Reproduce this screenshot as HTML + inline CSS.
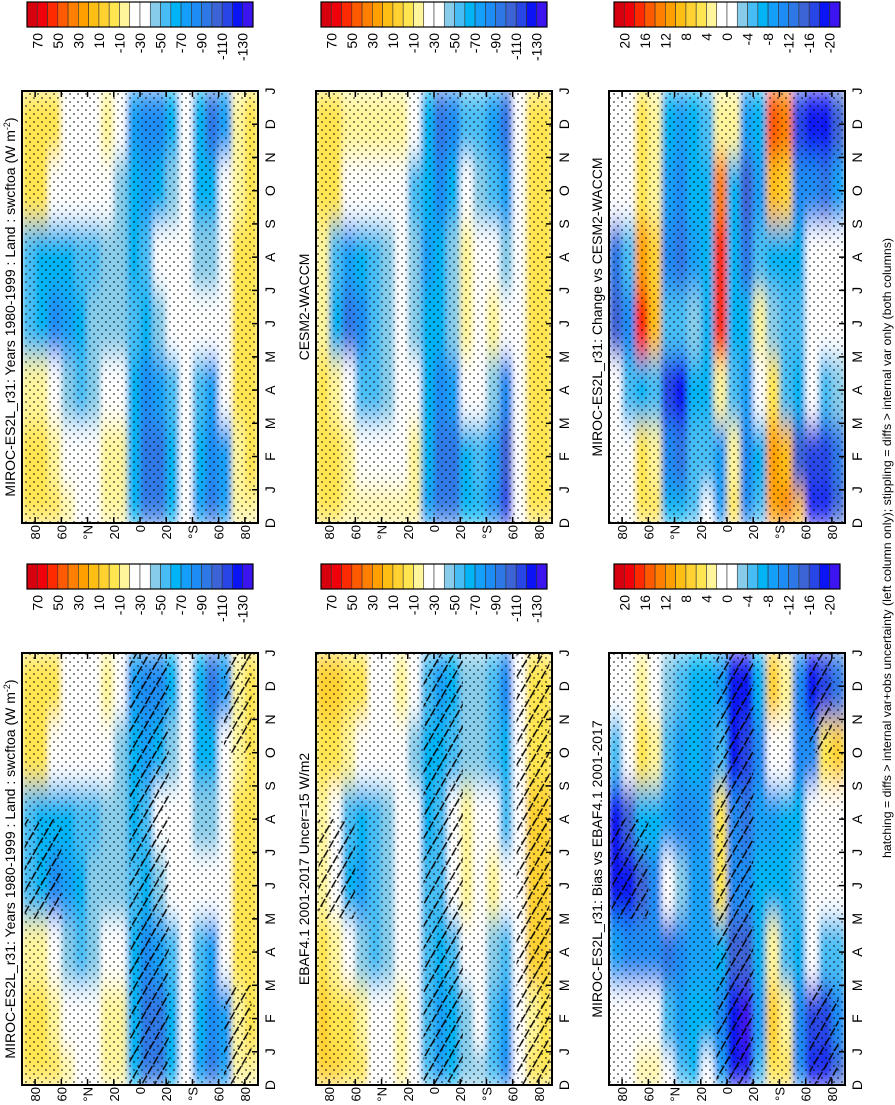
<!DOCTYPE html>
<html><head><meta charset="utf-8"><style>
html,body{margin:0;padding:0;background:#fff;width:895px;height:1105px;overflow:hidden;}
svg{display:block;font-family:"Liberation Sans",sans-serif;}
</style></head><body>
<svg id="fig" width="895" height="1105" viewBox="0 0 895 1105" xmlns="http://www.w3.org/2000/svg" overflow="hidden">
<defs>
<pattern id="stip" width="8" height="8" patternUnits="userSpaceOnUse"><circle cx="2" cy="2" r="1" fill="#000"/><circle cx="6" cy="6" r="1" fill="#000"/></pattern>
<pattern id="hatch" width="11" height="11" patternUnits="userSpaceOnUse" patternTransform="rotate(30)"><line x1="5" y1="0" x2="5" y2="11" stroke="#000" stroke-width="1.4" stroke-dasharray="9 2"/></pattern>
<filter id="blur" x="0" y="0" width="1" height="1"><feGaussianBlur stdDeviation="3 14" edgeMode="duplicate"/></filter>
</defs>
<text transform="translate(891,548) rotate(-90)" text-anchor="middle" font-size="12" textLength="620" lengthAdjust="spacingAndGlyphs">hatching = diffs &gt; internal var+obs uncertainty (left column only); stippling = diffs &gt; internal var only (both columns)</text>
</svg>
<script>
// ---- data ----
const lats = [85,75,65,55,45,35,25,15,5,-5,-15,-25,-35,-45,-55,-65,-75,-85];
const times = [0,2,4,6,8,10,12]; // D, F, A, J, A, O, D
const monthLabels = ["D","J","F","M","A","M","J","J","A","S","O","N","D","J"];
const latTickValues = [80,60,40,20,0,-20,-40,-60,-80];
const latTickLabels = ["80","60","°N","20","0","20","°S","60","80"];
const absTickLabels = ["70","50","30","10","-10","-30","-50","-70","-90","-110","-130"];
const diffTickLabels = ["20","16","12","8","4","0","-4","-8","-12","-16","-20"];
const colors = ['#d7000f','#f0000a','#ff2a00','#ff5a00','#ff8000','#ffa000','#ffbe14','#ffd232','#ffe650','#fff59b','#ffffff','#ffffff','#87cdeb','#46bef5','#00b4f5','#14a0fa','#1e8cf5','#2d78e6','#3c64d7','#2846e6','#0a14f5','#3c14f0'];

const mirocVals = [
[-5,-5,-10,-55,-50,-5,-5],
[-5,-5,-15,-65,-60,-5,-5],
[-8,-10,-30,-80,-65,-25,-8],
[-12,-25,-45,-75,-60,-30,-20],
[-30,-30,-50,-60,-55,-30,-30],
[-30,-30,-45,-45,-50,-30,-25],
[-15,-15,-30,-45,-45,-30,-15],
[-15,-18,-35,-45,-40,-40,-20],
[-60,-60,-60,-55,-60,-65,-70],
[-90,-90,-80,-60,-55,-70,-85],
[-90,-90,-75,-40,-30,-60,-85],
[-60,-60,-50,-30,-30,-45,-60],
[-30,-30,-30,-25,-30,-30,-30],
[-70,-65,-55,-30,-45,-60,-65],
[-90,-80,-70,-30,-40,-65,-90],
[-70,-70,-30,-30,-30,-30,-70],
[-15,-15,-5,-5,-5,-10,-12],
[-10,-5,-5,-5,-5,-5,-5]];
const cesmVals = [
[-5,-5,-5,-10,-10,-5,-5],
[-5,-8,-12,-60,-55,-8,-5],
[-10,-15,-30,-95,-75,-30,-10],
[-12,-20,-50,-85,-65,-30,-15],
[-15,-30,-50,-55,-50,-30,-15],
[-15,-30,-40,-45,-45,-30,-15],
[-15,-30,-30,-30,-30,-25,-15],
[-12,-15,-20,-40,-45,-50,-25],
[-70,-60,-60,-65,-70,-65,-65],
[-90,-95,-85,-65,-60,-80,-95],
[-90,-90,-75,-40,-40,-60,-80],
[-60,-65,-30,-15,-15,-35,-55],
[-60,-50,-30,-20,-30,-40,-55],
[-80,-70,-45,-15,-30,-55,-70],
[-110,-100,-80,-35,-45,-70,-95],
[-30,-30,-30,-30,-30,-30,-30],
[-5,-5,-5,-5,-5,-5,-5],
[-5,-5,-5,-5,-5,-5,-5]];
const changeVals = [
[0,0,0,-15,-12,0,0],
[0,0,-5,-10,-5,0,0],
[5,5,-6,18,12,6,5],
[5,3,-5,10,8,3,4],
[-6,-10,-16,-5,-10,-8,-6],
[-6,-12,-18,-4,-12,-10,-8],
[-4,-5,-6,-3,-8,-6,-6],
[2,-4,-6,-6,-6,-6,-4],
[-8,-8,4,18,18,14,4],
[6,4,-4,-6,-6,-6,3],
[-10,-10,-8,-6,-12,-14,-8],
[-4,-6,2,4,-4,-8,-6],
[12,12,6,-2,-6,10,16],
[14,10,-4,-4,-6,8,14],
[10,-14,-6,-4,-6,-10,-16],
[-18,-16,0,0,0,-10,-18],
[-18,-16,-4,0,0,-12,-18],
[-14,-12,-2,0,0,-8,-14]];
const ebafVals = [
[5,2,-5,-10,-15,-5,2],
[2,-5,-10,-20,-25,-5,2],
[-2,-8,-30,-60,-55,-10,-2],
[-8,-15,-45,-70,-60,-20,-8],
[-25,-25,-50,-55,-50,-35,-25],
[-30,-30,-45,-45,-45,-30,-30],
[-15,-15,-25,-30,-30,-20,-15],
[-20,-20,-25,-30,-35,-40,-25],
[-50,-55,-55,-55,-65,-65,-55],
[-70,-75,-65,-55,-50,-60,-75],
[-65,-65,-55,-30,-25,-50,-60],
[-45,-40,-30,-15,-15,-40,-45],
[-45,-30,-30,-25,-30,-40,-45],
[-55,-50,-45,-15,-25,-55,-55],
[-80,-70,-55,-35,-50,-65,-80],
[-30,-30,-30,-30,-30,-30,-30],
[-5,-10,2,2,2,-5,-8],
[-5,-5,2,2,2,0,-5]];
const biasVals = [
[0,0,-8,-18,-18,-4,0],
[0,0,-10,-18,-14,2,0],
[4,0,-10,-14,-6,5,4],
[3,0,-10,-10,-6,4,2],
[0,-4,-12,0,-8,-4,-2],
[-4,-8,-10,-2,-10,-8,-4],
[-6,-6,-8,-8,-10,-6,-6],
[0,-6,-8,-8,-8,-8,-6],
[-8,-10,-6,6,6,-4,-8],
[-18,-18,-14,-10,-10,-18,-18],
[-18,-20,-14,-10,-12,-16,-18],
[-4,-8,-6,-6,-8,-10,-6],
[6,8,4,-6,-8,2,8],
[6,4,-4,-6,-6,0,4],
[-10,-10,-6,-4,-6,-10,-10],
[-18,-16,0,0,0,-10,-18],
[-18,-16,-4,0,0,6,-16],
[-14,-10,-4,0,0,8,-12]];
// hatch regions: [latNorth, latSouth, tStart, tEnd]
const hatchMiroc = [[8,-22,0,13],[88,60,5,8],[-64,-85,0,3],[-64,-85,10,13]];
const hatchEbaf = [[8,-22,0,13],[88,60,5,8],[-63,-88,0,13]];
const hatchBias = [[8,-20,0,13],[88,60,5,8],[-63,-85,0,3],[-63,-80,10,13]];

// ---- drawing ----
const NS = "http://www.w3.org/2000/svg";
const svg = document.getElementById('fig');
function mk(tag, attrs, parent){ const e=document.createElementNS(NS,tag); for(const k in attrs) e.setAttribute(k,attrs[k]); (parent||svg).appendChild(e); return e; }

const W = 236, H = 432;
const panels = [
 {id:'miroc-top', x0:22, y0:91, vals:mirocVals, diff:false, hatch:[], title:'MIROC-ES2L_r31: Years 1980-1999 : Land : swcftoa (W m', sup:true},
 {id:'cesm', x0:316, y0:91, vals:cesmVals, diff:false, hatch:[], title:'CESM2-WACCM'},
 {id:'change', x0:609, y0:91, vals:changeVals, diff:true, hatch:[], title:'MIROC-ES2L_r31: Change vs CESM2-WACCM'},
 {id:'miroc-bottom', x0:22, y0:653, vals:mirocVals, diff:false, hatch:hatchMiroc, title:'MIROC-ES2L_r31: Years 1980-1999 : Land : swcftoa (W m', sup:true},
 {id:'ebaf', x0:316, y0:653, vals:ebafVals, diff:false, hatch:hatchEbaf, title:'EBAF4.1 2001-2017 Uncer=15 W/m2'},
 {id:'bias', x0:609, y0:653, vals:biasVals, diff:true, hatch:hatchBias, title:'MIROC-ES2L_r31: Bias vs EBAF4.1 2001-2017'}
];

function binOf(v, diff){ let b = diff ? Math.floor((22 - v)/2) : Math.floor((80 - v)/10); return Math.max(0, Math.min(21, b)); }

panels.forEach((p, pi) => {
  const g = mk('g', {});
  
  
  const xOf = lat => p.x0 + (90 - lat) / 180 * W;
  const yOf = t => p.y0 + H - t / 13 * H;
  const cid = 'clip' + pi;
  const cp = mk('clipPath', {id:cid}, g);
  mk('rect', {x:p.x0, y:p.y0, width:W, height:H}, cp);
  const clipG = mk('g', {'clip-path':'url(#'+cid+')'}, g);
  const field = mk('g', {filter:'url(#blur)'}, clipG);
  p.vals.forEach((row, i) => {
    row.forEach((v, j) => {
      let la1 = lats[i] + 5, la2 = lats[i] - 5;
      let t1 = Math.max(0, times[j] - 1), t2 = times[j] + 1;
      if (j === times.length - 1) t2 = 13;
      const r = mk('rect', {x:xOf(la1), y:yOf(t2), width:xOf(la2)-xOf(la1), height:yOf(t1)-yOf(t2), fill:colors[binOf(v,p.diff)]}, field);
      
      
    });
  });
  const st = mk('rect', {x:p.x0, y:p.y0, width:W, height:H, fill:'url(#stip)', opacity:0.6}, clipG);
  
  
  p.hatch.forEach(hr => {
    const la1 = Math.min(hr[0], 90), la2 = Math.max(hr[1], -90);
    const h = mk('rect', {x:xOf(la1), y:yOf(hr[3]), width:xOf(la2)-xOf(la1), height:yOf(hr[2])-yOf(hr[3]), fill:'url(#hatch)'}, clipG);
    
    
  });
  const box = mk('rect', {x:p.x0, y:p.y0, width:W, height:H, fill:'none', stroke:'#000', 'stroke-width':2}, g);
  
  
  latTickValues.forEach((lv, k) => {
    const x = xOf(lv);
    mk('line', {x1:x, y1:p.y0, x2:x, y2:p.y0+6, stroke:'#000', 'stroke-width':1.5}, g);
    mk('line', {x1:x, y1:p.y0+H, x2:x, y2:p.y0+H-6, stroke:'#000', 'stroke-width':1.5}, g);
    const t = mk('text', {transform:'translate('+(x+5)+','+(p.y0+H+2)+') rotate(-90)', 'text-anchor':'end', 'font-size':13}, g);
    t.textContent = latTickLabels[k];
    
    
  });
  monthLabels.forEach((m, k) => {
    const y = yOf(k);
    mk('line', {x1:p.x0+W, y1:y, x2:p.x0+W-6, y2:y, stroke:'#000', 'stroke-width':1.5}, g);
    const t = mk('text', {transform:'translate('+(p.x0+W+17)+','+y+') rotate(-90)', 'text-anchor':'middle', 'font-size':14}, g);
    t.textContent = m;
    
    
  });
  const tt = mk('text', {transform:'translate('+(p.x0-7)+','+(p.y0+H/2)+') rotate(-90)', 'text-anchor':'middle', 'font-size':14}, g);
  tt.textContent = p.title;
  if (p.sup) { const s = mk('tspan', {dy:-5, 'font-size':9}, tt); s.textContent='-2'; const s2 = mk('tspan', {dy:5}, tt); s2.textContent=')'; }
  
  
  const cbx = p.x0 + 5, cby = p.y0 - 89, cbw = 226, cbh = 25, bw = cbw / 22;
  const cb = mk('g', {}, g);
  
  
  colors.forEach((c, k) => { mk('rect', {x:cbx+k*bw, y:cby, width:bw, height:cbh, fill:c, stroke:'#333', 'stroke-width':0.6}, cb); });
  mk('rect', {x:cbx, y:cby, width:cbw, height:cbh, fill:'none', stroke:'#000', 'stroke-width':1.2}, cb);
  const labs = p.diff ? diffTickLabels : absTickLabels;
  labs.forEach((l, k) => {
    const x = cbx + (2*k+1)*bw;
    const t = mk('text', {transform:'translate('+(x+5)+','+(cby+cbh+6)+') rotate(-90)', 'text-anchor':'end', 'font-size':14}, cb);
    t.textContent = l;
    
    
  });
});
</script>
</body></html>
